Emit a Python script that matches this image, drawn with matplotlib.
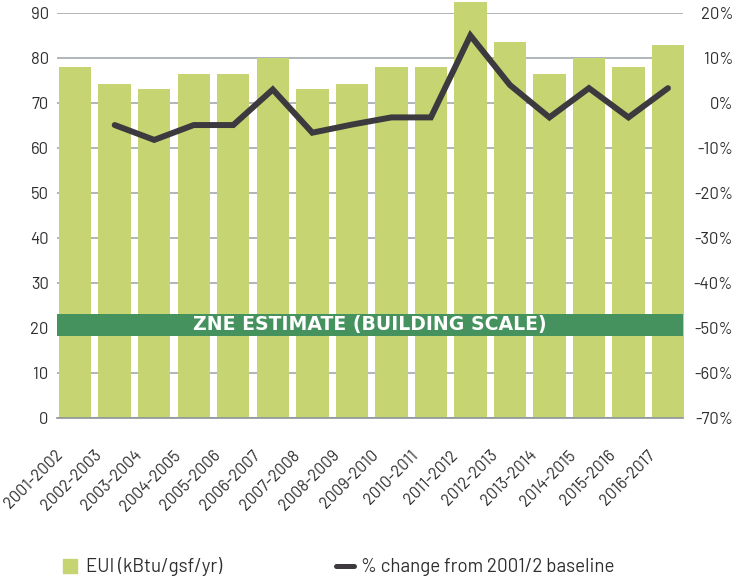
import matplotlib
matplotlib.use("Agg")
import matplotlib.pyplot as plt
from matplotlib.lines import Line2D
from matplotlib.transforms import ScaledTranslation
import numpy as np

# School years
years = ["2001-2002", "2002-2003", "2003-2004", "2004-2005", "2005-2006",
         "2006-2007", "2007-2008", "2008-2009", "2009-2010", "2010-2011",
         "2011-2012", "2012-2013", "2013-2014", "2014-2015", "2015-2016",
         "2016-2017"]
# Energy use intensity, kBtu/gsf/yr
eui = [78.0, 74.2, 73.1, 76.4, 76.4, 80.0, 73.1, 74.2, 78.0, 78.0,
       92.4, 83.6, 76.4, 80.0, 78.0, 82.9]
# % change from the 2001/2 baseline (no value for the baseline year)
pct_change = [np.nan, -4.9, -8.2, -4.9, -4.9, 3.0, -6.6, -4.8, -3.2, -3.2,
              15.0, 4.0, -3.2, 3.3, -3.2, 3.3]

left_ticks = list(range(0, 100, 10))
right_ticks = list(range(-70, 30, 10))
zne_band = (18.3, 23.1)
zne_label = "ZNE ESTIMATE (BUILDING SCALE)"

BAR = "#c6d471"
LINE = "#3c3a3e"
ZNE = "#46925f"
GRID = "#a3a9ae"
TEXT = "#2e2e2e"

plt.rcParams['font.family'] = ['Barlow', 'Roboto', 'DejaVu Sans']

W, H = 736, 579
fig = plt.figure(figsize=(W / 100, H / 100), dpi=100)
ax = fig.add_axes([57 / W, 161 / H, 626 / W, 405 / H])

x = np.arange(len(years))
ax.bar(x, eui, width=0.82, color=BAR, zorder=2, clip_on=False)
ax.set_xlim(-0.46, 15.38)
ax.set_ylim(0, 90)
ax.set_yticks(left_ticks)
ax.yaxis.grid(True, color=GRID, lw=1.2)
ax.set_axisbelow(True)
for s in ["top", "right", "left"]:
    ax.spines[s].set_visible(False)
ax.spines["bottom"].set_color("#8d949a")
ax.spines["bottom"].set_linewidth(1.2)
ax.spines["bottom"].set_zorder(3)
ax.tick_params(axis="both", length=0, labelsize=12, colors=TEXT)
ax.tick_params(axis="y", pad=6)

ax.set_xticks(x)
ax.set_xticklabels(years, rotation=45, ha="right", va="center",
                   rotation_mode="anchor")
ax.tick_params(axis="x", pad=25, labelsize=11.8)
shift = ScaledTranslation(-15 / 100, 0, fig.dpi_scale_trans)
for lab in ax.get_xticklabels():
    lab.set_transform(lab.get_transform() + shift)

# Zero-net-energy target band
ax.axhspan(*zne_band, color=ZNE, zorder=3, lw=0)
ax.text(0.5, sum(zne_band) / 2, zne_label, transform=ax.get_yaxis_transform(),
        ha="center", va="center", color="white", fontweight="bold",
        fontsize=13.6, family=["DejaVu Sans"], zorder=4)

# Percent change on the secondary axis
ax2 = ax.twinx()
ax2.set_ylim(-70, 20)
ax2.plot(x, pct_change, color=LINE, lw=4.3, solid_capstyle="round",
         solid_joinstyle="miter", zorder=5)
ax2.set_yticks(right_ticks)
ax2.set_yticklabels([f"{t}%" for t in right_ticks], ha="right")
ax2.tick_params(axis="y", length=0, labelsize=12, colors=TEXT, pad=36)
for s in ax2.spines.values():
    s.set_visible(False)

handles = [Line2D([], [], marker="s", ls="none", color=BAR, markersize=10.5),
           Line2D([], [], color=LINE, lw=3.6, solid_capstyle="round")]
fig.legend(handles, ["EUI (kBtu/gsf/yr)", "% change from 2001/2 baseline"],
           loc="center left", bbox_to_anchor=(60.75 / W, 12 / H),
           bbox_transform=fig.transFigure, ncol=2, frameon=False,
           borderpad=0, borderaxespad=0, handlelength=0.95,
           handletextpad=0.38, columnspacing=6.1, fontsize=13.5,
           labelcolor=TEXT)

fig.savefig("out.png", dpi=100)
